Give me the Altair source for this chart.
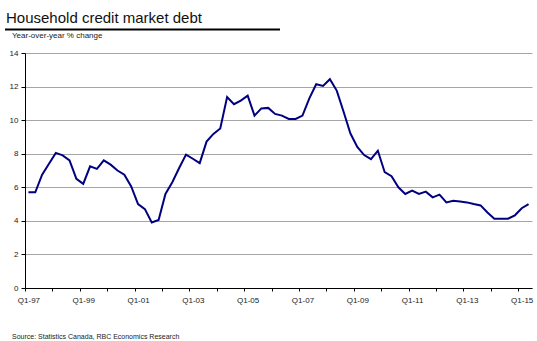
import json
import altair as alt
import pandas as pd

title_text = "Household credit market debt"
subtitle_text = "Year-over-year % change"
source_text = "Source: Statistics Canada, RBC Economics Research"

# Quarterly y/y % change, Q1-97 .. Q2-15
values = [5.7, 5.7, 6.75, 7.4, 8.05, 7.9, 7.6, 6.5, 6.2, 7.25,
          7.1, 7.6, 7.35, 7.0, 6.75, 6.05, 5.0, 4.7, 3.9, 4.05,
          5.6, 6.3, 7.15, 7.95, 7.7, 7.44, 8.72, 9.18, 9.5, 11.37,
          10.95, 11.16, 11.46, 10.27, 10.7, 10.73, 10.37, 10.27, 10.07, 10.07,
          10.27, 11.3, 12.14, 12.04, 12.44, 11.76, 10.5, 9.2, 8.4, 7.92,
          7.68, 8.18, 6.9, 6.66, 6.0, 5.6, 5.8, 5.6, 5.74, 5.4,
          5.56, 5.1, 5.2, 5.15, 5.1, 5.0, 4.92, 4.5, 4.13, 4.13,
          4.13, 4.33, 4.75, 5.0]

tick_labels = ["Q1-97", "Q1-99", "Q1-01", "Q1-03", "Q1-05",
               "Q1-07", "Q1-09", "Q1-11", "Q1-13", "Q1-15"]
y_ticks = [0, 2, 4, 6, 8, 10, 12, 14]

n = len(values)
quarters = []
for i in range(n):
    yr = (97 + i // 4) % 100
    quarters.append(f"Q{i % 4 + 1}-{yr:02d}")

df = pd.DataFrame({"pos": [i + 0.5 for i in range(n)], "val": values, "quarter": quarters})

FONT = "Liberation Sans"
TXT = "#1a1a1a"

label_expr = "datum.value % 8 == 0 ? " + json.dumps(tick_labels) + "[datum.value / 8] : ''"

line = alt.Chart(df).mark_line(color="#000080", strokeWidth=2).encode(
    x=alt.X("pos:Q",
            scale=alt.Scale(domain=[0, n], nice=False, zero=False),
            axis=alt.Axis(values=list(range(0, n, 4)), labelExpr=label_expr, title=None,
                          grid=False, domainColor="black", tickColor="black", tickSize=3,
                          domainWidth=1, tickWidth=1, labelOffset=3.4, labelFontSize=8,
                          labelFont=FONT, labelColor=TXT, labelPadding=5, labelFlush=False,
                          labelOverlap=False)),
    y=alt.Y("val:Q",
            scale=alt.Scale(domain=[0, 14], nice=False, zero=True),
            axis=alt.Axis(values=y_ticks, title=None, grid=True, gridColor="#a6a6a6",
                          gridWidth=1, domainColor="black", tickColor="black", tickSize=4,
                          domainWidth=1, tickWidth=1, labelFontSize=8, labelFont=FONT,
                          labelColor=TXT, labelPadding=3, labelFlush=False)),
)

tdf = pd.DataFrame({"t": [title_text]})
title = alt.Chart(tdf).mark_text(align="left", baseline="alphabetic", fontSize=15,
                                 font=FONT, color="#111111").encode(
    text="t:N", x=alt.value(-19), y=alt.value(-30.5))

rule = alt.Chart(tdf).mark_rule(color="black", strokeWidth=2).encode(
    x=alt.value(-20), x2=alt.value(255), y=alt.value(-23.5))

sdf = pd.DataFrame({"t": [subtitle_text]})
subtitle = alt.Chart(sdf).mark_text(align="left", baseline="alphabetic", fontSize=8,
                                    font=FONT, color=TXT).encode(
    text="t:N", x=alt.value(-13), y=alt.value(-15.3))

srcdf = pd.DataFrame({"t": [source_text]})
source = alt.Chart(srcdf).mark_text(align="left", baseline="alphabetic", fontSize=7,
                                    font=FONT, color=TXT).encode(
    text="t:N", x=alt.value(-13), y=alt.value(285.5))

chart = alt.layer(line, rule, title, subtitle, source).properties(
    width=507, height=235,
    padding={"left": 25, "top": 53, "right": 5, "bottom": 53},
    autosize=alt.AutoSizeParams(type="none"),
    background="white",
).configure_view(stroke=None)

chart.save("out.html", embed_options={"renderer": "svg", "actions": False})
